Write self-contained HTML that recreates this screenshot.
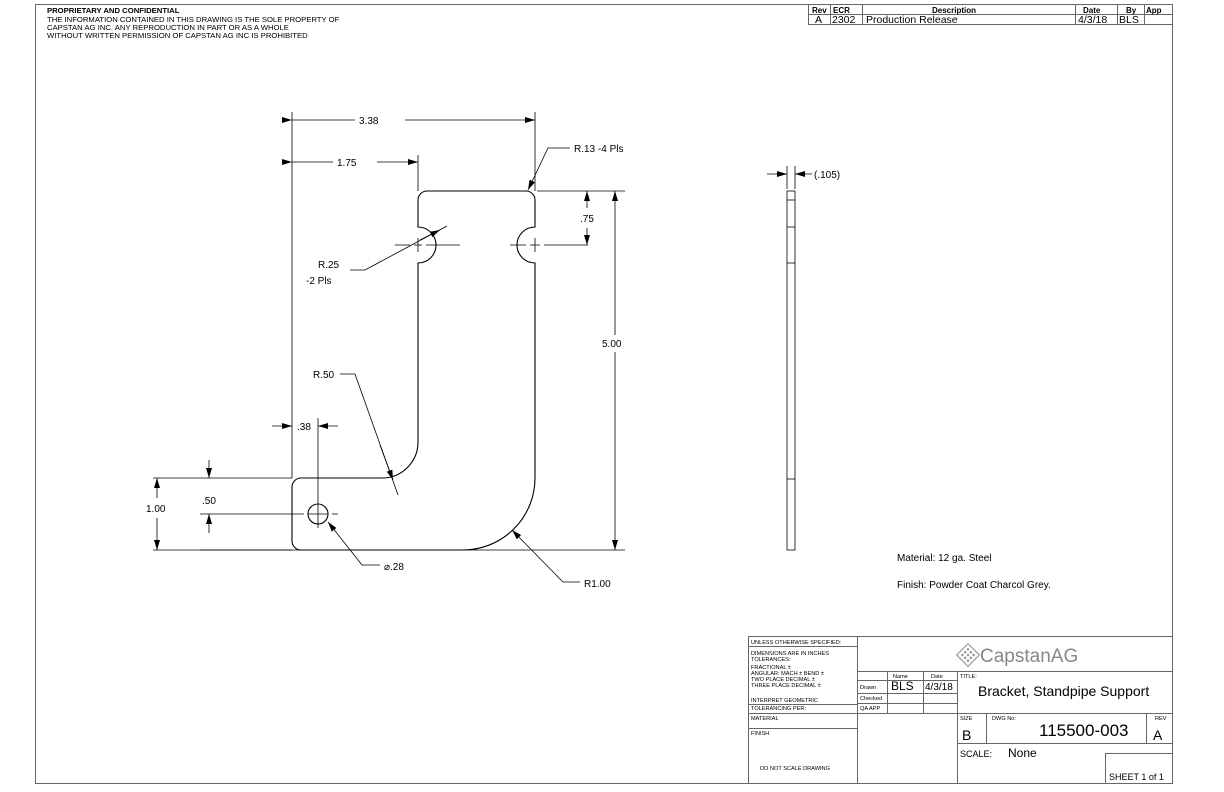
<!DOCTYPE html>
<html><head><meta charset="utf-8"><style>
html,body{margin:0;padding:0;background:#fff}
svg{display:block}
text{font-family:"Liberation Sans",sans-serif;fill:#000}
</style></head><body>
<svg width="1224" height="792" viewBox="0 0 1224 792" xmlns="http://www.w3.org/2000/svg">
<defs>
<marker id="a" viewBox="0 0 10 6" refX="10" refY="3" markerWidth="10" markerHeight="6" markerUnits="userSpaceOnUse" orient="auto"><path d="M0,0L10,3L0,6z" fill="#000"/></marker>
</defs>
<rect x="35.5" y="4.5" width="1137" height="779" fill="none" stroke="#666" stroke-width="1"/>
<text x="47" y="13" font-size="7.7" font-weight="bold">PROPRIETARY AND CONFIDENTIAL</text>
<text x="47" y="22" font-size="7.7">THE INFORMATION CONTAINED IN THIS DRAWING IS THE SOLE PROPERTY OF</text>
<text x="47" y="30" font-size="7.7">CAPSTAN AG INC. ANY REPRODUCTION IN PART OR AS A WHOLE</text>
<text x="47" y="38" font-size="7.7">WITHOUT WRITTEN PERMISSION OF CAPSTAN AG INC IS PROHIBITED</text>
<g stroke="#666" fill="none" stroke-width="1">
<rect x="808.5" y="4.5" width="364" height="20"/>
<line x1="808" y1="14.5" x2="1172" y2="14.5"/>
<line x1="830.5" y1="4" x2="830.5" y2="24"/>
<line x1="862.5" y1="4" x2="862.5" y2="24"/>
<line x1="1075.5" y1="4" x2="1075.5" y2="24"/>
<line x1="1117.5" y1="4" x2="1117.5" y2="24"/>
<line x1="1144.5" y1="4" x2="1144.5" y2="24"/>
</g>
<text x="812" y="13" font-size="8" font-weight="bold">Rev</text>
<text x="833" y="13" font-size="8" font-weight="bold">ECR</text>
<text x="932" y="13" font-size="8" font-weight="bold">Description</text>
<text x="1083" y="13" font-size="8" font-weight="bold">Date</text>
<text x="1126" y="13" font-size="8" font-weight="bold">By</text>
<text x="1146" y="13" font-size="8" font-weight="bold">App</text>
<text x="815" y="23" font-size="10.5">A</text>
<text x="832" y="23" font-size="10.5">2302</text>
<text x="866" y="23" font-size="10.5">Production Release</text>
<text x="1078" y="23" font-size="10.5">4/3/18</text>
<text x="1119" y="23" font-size="10.5">BLS</text>

<g fill="none" stroke="#000" stroke-width="1.1">
<path d="M427,191 L526,191 A9,9 0 0 1 535,200 L535,227 A18,18 0 0 0 535,263 L535,478 A72,72 0 0 1 463,550 L301,550 A9,9 0 0 1 292,541 L292,487 A9,9 0 0 1 301,478 L382,478 A36,36 0 0 0 418,442 L418,263 A18,18 0 0 0 418,227 L418,200 A9,9 0 0 1 427,191 Z"/>
<circle cx="318" cy="514" r="10"/>
</g>
<g stroke="#000" stroke-width="0.8" fill="none">
<path d="M395,245H410M414,245H422M426,245H460" />
<path d="M510,245H526M530,245H540M544,245H588"/>
<line x1="418" y1="238" x2="418" y2="252"/>
<line x1="535" y1="238" x2="535" y2="252"/>
<path d="M300,514H304M308,514H328M332,514H338"/>
<path d="M318,500V528"/>
</g>
<g stroke="#000" stroke-width="0.8" fill="none">
<line x1="292" y1="112" x2="292" y2="478"/>
<line x1="535" y1="112" x2="535" y2="191"/>
<line x1="418" y1="155" x2="418" y2="191"/>
<line x1="292" y1="120" x2="355" y2="120" marker-start="url(#a)"/>
<line x1="405" y1="120" x2="535" y2="120" marker-end="url(#a)"/>
<line x1="292" y1="162" x2="333" y2="162" marker-start="url(#a)"/>
<line x1="377" y1="162" x2="418" y2="162" marker-end="url(#a)"/>
<polyline points="570,148 548,148 528,190" marker-end="url(#a)"/>
<line x1="537" y1="191" x2="625" y2="191"/>
<line x1="200" y1="550" x2="625" y2="550"/>
<line x1="587" y1="208" x2="587" y2="191" marker-end="url(#a)"/>
<line x1="587" y1="228" x2="587" y2="245" marker-end="url(#a)"/>
<line x1="615" y1="335" x2="615" y2="191" marker-end="url(#a)"/>
<line x1="615" y1="352" x2="615" y2="550" marker-end="url(#a)"/>
<polyline points="350,270 365,270 447,226"/>
<line x1="420" y1="240" x2="440" y2="230" marker-end="url(#a)"/>
<polyline points="340,374 355,374 398,495"/>
<line x1="380" y1="445" x2="393" y2="480" marker-end="url(#a)"/>
<line x1="318" y1="418" x2="318" y2="500"/>
<line x1="272" y1="426" x2="292" y2="426" marker-end="url(#a)"/>
<line x1="338" y1="426" x2="318" y2="426" marker-end="url(#a)"/>
<line x1="153" y1="478" x2="292" y2="478"/>
<line x1="153" y1="550" x2="292" y2="550"/>
<line x1="157" y1="498" x2="157" y2="478" marker-end="url(#a)"/>
<line x1="157" y1="518" x2="157" y2="550" marker-end="url(#a)"/>
<line x1="200" y1="514" x2="300" y2="514"/>
<line x1="209" y1="460" x2="209" y2="478" marker-end="url(#a)"/>
<line x1="209" y1="533" x2="209" y2="514" marker-end="url(#a)"/>
<polyline points="380,565 362,565 328,522" marker-end="url(#a)"/>
<polyline points="580,582 563,582 512,530" marker-end="url(#a)"/>
</g>
<g font-size="10">
<text x="359" y="124">3.38</text>
<text x="337" y="166">1.75</text>
<text x="574" y="152">R.13 -4 Pls</text>
<text x="580" y="222">.75</text>
<text x="602" y="347">5.00</text>
<text x="318" y="268">R.25</text>
<text x="306" y="284">-2 Pls</text>
<text x="313" y="378">R.50</text>
<text x="297" y="430">.38</text>
<text x="146" y="512">1.00</text>
<text x="202" y="504">.50</text>
<text x="384" y="570">⌀.28</text>
<text x="584" y="587">R1.00</text>
</g>
<g stroke="#000" stroke-width="0.8" fill="none">
<rect x="787" y="191" width="8" height="359"/>
<line x1="787" y1="200" x2="795" y2="200"/>
<line x1="787" y1="227" x2="795" y2="227"/>
<line x1="787" y1="263" x2="795" y2="263"/>
<line x1="787" y1="479" x2="795" y2="479"/>
<line x1="787" y1="166" x2="787" y2="189"/>
<line x1="795" y1="166" x2="795" y2="189"/>
<line x1="767" y1="174" x2="787" y2="174" marker-end="url(#a)"/>
<line x1="812" y1="174" x2="795" y2="174" marker-end="url(#a)"/>
</g>
<text x="814" y="178" font-size="10">(.105)</text>
<text x="897" y="561" font-size="10">Material: 12 ga. Steel</text>
<text x="897" y="588" font-size="10">Finish: Powder Coat Charcol Grey.</text>

<g stroke="#666" fill="none" stroke-width="1">
<rect x="748.5" y="636.5" width="424" height="147"/>
<line x1="857.5" y1="636" x2="857.5" y2="783"/>
<line x1="957.5" y1="671" x2="957.5" y2="783"/>
<line x1="748" y1="646.5" x2="857" y2="646.5"/>
<line x1="748" y1="704.5" x2="857" y2="704.5"/>
<line x1="748" y1="713.5" x2="857" y2="713.5"/>
<line x1="748" y1="728.5" x2="857" y2="728.5"/>
<line x1="857" y1="671.5" x2="1172" y2="671.5"/>
<line x1="887.5" y1="671" x2="887.5" y2="713"/>
<line x1="923.5" y1="671" x2="923.5" y2="713"/>
<line x1="857" y1="680.5" x2="957" y2="680.5"/>
<line x1="857" y1="693.5" x2="957" y2="693.5"/>
<line x1="857" y1="703.5" x2="957" y2="703.5"/>
<line x1="857" y1="713.5" x2="1172" y2="713.5"/>
<line x1="986.5" y1="713" x2="986.5" y2="743"/>
<line x1="1146.5" y1="713" x2="1146.5" y2="743"/>
<line x1="957" y1="743.5" x2="1172" y2="743.5"/>
<line x1="1105" y1="753.5" x2="1172" y2="753.5"/>
<line x1="1105.5" y1="753" x2="1105.5" y2="783"/>
</g>
<g font-size="5.6">
<text x="751" y="644">UNLESS OTHERWISE SPECIFIED:</text>
<text x="751" y="655">DIMENSIONS ARE IN INCHES</text>
<text x="751" y="661">TOLERANCES:</text>
<text x="751" y="669">FRACTIONAL ±</text>
<text x="751" y="675">ANGULAR: MACH ±   BEND ±</text>
<text x="751" y="681">TWO PLACE DECIMAL   ±</text>
<text x="751" y="687">THREE PLACE DECIMAL  ±</text>
<text x="751" y="702">INTERPRET GEOMETRIC</text>
<text x="751" y="710">TOLERANCING PER:</text>
<text x="751" y="720">MATERIAL</text>
<text x="751" y="735">FINISH</text>
<text x="760" y="770">DO NOT SCALE DRAWING</text>
<text x="893" y="678">Name</text>
<text x="931" y="678">Date</text>
<text x="860" y="689">Drawn</text>
<text x="860" y="700">Checked</text>
<text x="860" y="710">QA APP</text>
<text x="960" y="678">TITLE:</text>
<text x="960" y="720">SIZE</text>
<text x="992" y="720">DWG No:</text>
<text x="1155" y="720">REV</text>
</g>
<text x="891" y="690" font-size="12">BLS</text>
<text x="925" y="690" font-size="10">4/3/18</text>
<text x="978" y="696" font-size="14">Bracket, Standpipe Support</text>
<text x="962" y="740" font-size="14">B</text>
<text x="1039" y="736" font-size="17">115500-003</text>
<text x="1153" y="740" font-size="14">A</text>
<text x="960" y="757" font-size="9">SCALE:</text>
<text x="1008" y="757" font-size="12">None</text>
<text x="1109" y="780" font-size="9">SHEET 1 of 1</text>
<g transform="translate(968,655) rotate(45)">
<rect x="-8" y="-8" width="16" height="16" fill="none" stroke="#999" stroke-width="1.2"/>
<g fill="#999"><circle cx="-4" cy="-4" r="1.3"/><circle cx="0" cy="-4" r="1.3"/><circle cx="4" cy="-4" r="1.3"/><circle cx="-4" cy="0" r="1.3"/><circle cx="0" cy="0" r="1.3"/><circle cx="4" cy="0" r="1.3"/><circle cx="-4" cy="4" r="1.3"/><circle cx="0" cy="4" r="1.3"/><circle cx="4" cy="4" r="1.3"/></g>
</g>
<text x="980" y="662" font-size="19" style="fill:#888">CapstanAG</text>
</svg>
</body></html>
